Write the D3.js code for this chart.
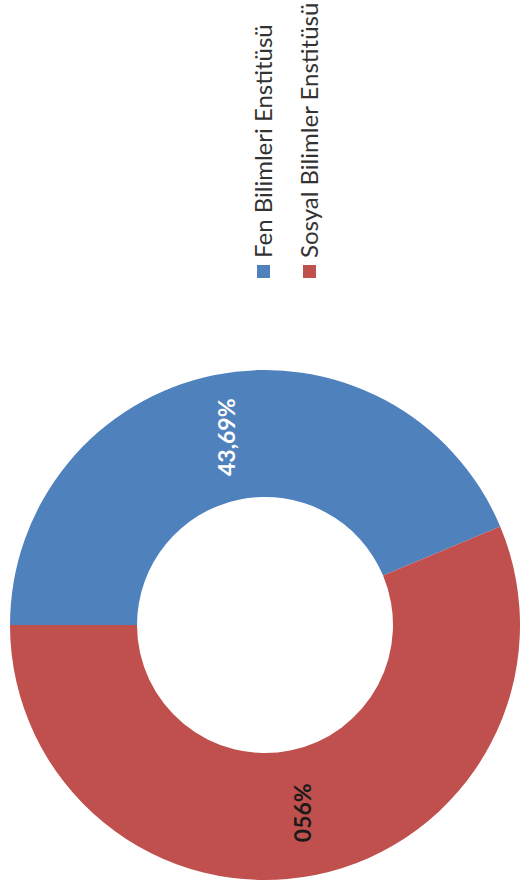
<!DOCTYPE html>
<html>
<head>
<meta charset="utf-8">
<script src="https://cdn.jsdelivr.net/npm/d3@7"></script>
<style>
  body { margin: 0; background: #fff; }
  svg { display: block; }
</style>
</head>
<body>
<div id="chart"></div>
<script>
// data
var categories = ["Fen Bilimleri Enstitüsü", "Sosyal Bilimler Enstitüsü"];
var values = [43.69, 56.31];
var labels = ["43,69%", "056%"];
var colors = ["#4F81BD", "#C0504D"];
var labelColors = ["#ffffff", "#1a1a1a"];

var W = 521, H = 883;
// chart is drawn in landscape (883 x 521) and turned -90deg
var cx = 258, cy = 265, rOut = 255, rIn = 128;

var svg = d3.select("#chart").append("svg")
  .attr("width", W)
  .attr("height", H);

var g = svg.append("g")
  .attr("transform", "translate(0," + H + ") rotate(-90)");

var pie = d3.pie().sort(null).value(function(d) { return d; });
var arc = d3.arc().innerRadius(rIn).outerRadius(rOut);

var arcs = pie(values);

var donut = g.append("g")
  .attr("transform", "translate(" + cx + "," + cy + ")");

donut.selectAll("path")
  .data(arcs)
  .enter()
  .append("path")
  .attr("d", arc)
  .attr("fill", function(d, i) { return colors[i]; });

donut.selectAll("text")
  .data(arcs)
  .enter()
  .append("text")
  .attr("transform", function(d) { return "translate(" + arc.centroid(d) + ")"; })
  .attr("text-anchor", "middle")
  .attr("dy", "0.35em")
  .attr("font-family", "Lato, 'Open Sans', sans-serif")
  .attr("font-weight", "bold")
  .attr("font-size", 23)
  .attr("fill", function(d, i) { return labelColors[i]; })
  .text(function(d, i) { return labels[i]; });

// legend
var legend = g.append("g")
  .attr("transform", "translate(605,0)");

var yLeg = d3.scalePoint()
  .domain(categories)
  .range([264, 310]);

var items = legend.selectAll("g")
  .data(categories)
  .enter()
  .append("g")
  .attr("transform", function(d) { return "translate(0," + yLeg(d) + ")"; });

items.append("rect")
  .attr("x", 0)
  .attr("y", -7)
  .attr("width", 13)
  .attr("height", 13)
  .attr("fill", function(d, i) { return colors[i]; });

items.append("text")
  .attr("x", 20)
  .attr("y", 8)
  .attr("font-family", "Lato, 'Open Sans', sans-serif")
  .attr("font-size", 24)
  .attr("fill", "#333")
  .text(function(d) { return d; });
</script>
</body>
</html>
